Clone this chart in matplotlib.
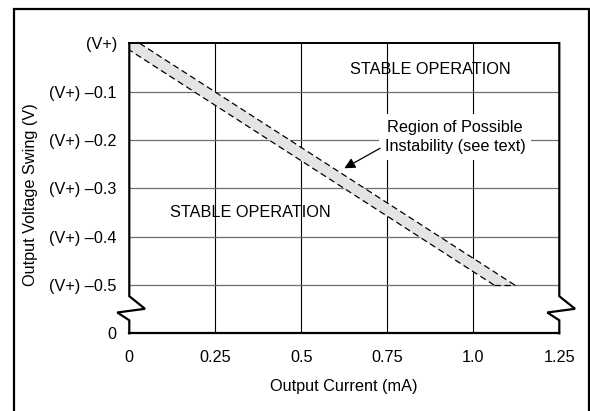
import matplotlib
matplotlib.use("Agg")
import matplotlib.pyplot as plt
from matplotlib.patches import Rectangle
from matplotlib.lines import Line2D

plt.rcParams['font.family'] = ['Liberation Sans', 'DejaVu Sans']
plt.rcParams['font.size'] = 11.7

# data
swing = [0.0, -0.5]              # output voltage below V+
current_upper = [0.03, 1.12]     # upper edge of instability band (mA)
current_lower = [-0.03, 1.06]    # lower edge of instability band (mA)

x_ticks = [0, 0.25, 0.5, 0.75, 1.0, 1.25]
x_labels = ['0', '0.25', '0.5', '0.75', '1.0', '1.25']
y_ticks = [-0.6, -0.5, -0.4, -0.3, -0.2, -0.1, 0.0]
y_labels = ['0', '(V+) \u20130.5', '(V+) \u20130.4', '(V+) \u20130.3',
            '(V+) \u20130.2', '(V+) \u20130.1', '(V+)']

fig = plt.figure(figsize=(5.9, 4.11), dpi=100)
ax = fig.add_axes([129.3 / 590, 1 - 333.3 / 411, 430 / 590, 290 / 411])
ax.set_xlim(0, 1.25)
ax.set_ylim(-0.6, 0)

# grid: vertical black, horizontal gray
for xv in x_ticks[1:-1]:
    ax.axvline(xv, color='black', lw=0.8, zorder=1)
for yv in y_ticks[1:-1]:
    ax.axhline(yv, color='#6e6e6e', lw=0.9, zorder=1)

# band of possible instability
ax.fill_betweenx(swing, current_lower, current_upper, color='#e4e4e4', lw=0, zorder=2)
ax.plot(current_upper, swing, color='black', lw=0.9, ls=(0, (5, 3)), zorder=3)
ax.plot(current_lower, swing, color='black', lw=0.9, ls=(0, (5, 3)), zorder=3)
ax.plot([current_lower[-1], current_upper[-1]], [swing[-1], swing[-1]],
        color='black', lw=0.9, ls=(0, (5, 3)), zorder=3)

ax.set_xticks(x_ticks)
ax.set_xticklabels(x_labels)
ax.set_yticks(y_ticks)
ax.set_yticklabels(y_labels)
ax.tick_params(length=0)
ax.tick_params(axis='x', pad=12)
ax.tick_params(axis='y', pad=9)

# spines: top and bottom normal, left/right drawn by hand with break
for side in ['left', 'right']:
    ax.spines[side].set_visible(False)
ax.spines['top'].set_linewidth(1.4)
ax.spines['bottom'].set_linewidth(1.6)

dx = 1 / 430.0
dy = 1 / 290.0
def brk_y(py):
    return 1 - (py - 43.3) * dy

left_x = [0, 0, 15.7 * dx, -12 * dx, 0, 0]
right_x = [1, 1, 1 + 15.7 * dx, 1 - 12 * dx, 1, 1]
brk_ys = [1, brk_y(296.2), brk_y(308.8), brk_y(312.5), brk_y(320.3), 0]
ax.add_line(Line2D(left_x, brk_ys, transform=ax.transAxes, color='black',
                   lw=1.6, clip_on=False, solid_joinstyle='miter', zorder=5))
ax.add_line(Line2D(right_x, brk_ys, transform=ax.transAxes, color='black',
                   lw=1.6, clip_on=False, solid_joinstyle='miter', zorder=5))

ax.text(0.875, -0.0534, 'STABLE OPERATION', ha='center', va='center', zorder=4)
ax.text(0.352, -0.351, 'STABLE OPERATION', ha='center', va='center', zorder=4)
ax.text(0.947, -0.194, 'Region of Possible\nInstability (see text)', ha='center',
        va='center', linespacing=1.4, zorder=4,
        bbox=dict(facecolor='white', edgecolor='none', pad=4))
ax.annotate('', xy=(0.625, -0.2586), xytext=(0.729, -0.2172),
            arrowprops=dict(arrowstyle='-|>', color='black', lw=0.9,
                            mutation_scale=16, shrinkA=0, shrinkB=0), zorder=4)

fig.text(31 / 590, 1 - 195 / 411, 'Output Voltage Swing (V)', rotation=90,
         ha='center', va='center')
fig.text(344 / 590, 1 - 386.7 / 411, 'Output Current (mA)', ha='center', va='center')

# outer frame (bottom edge falls outside the image)
fig.add_artist(Rectangle((14 / 590, -0.1), (589 - 14) / 590, 1.1 - 9 / 411,
                         transform=fig.transFigure, fill=False, lw=1.6,
                         edgecolor='black'))

fig.savefig('out.png', dpi=100)
